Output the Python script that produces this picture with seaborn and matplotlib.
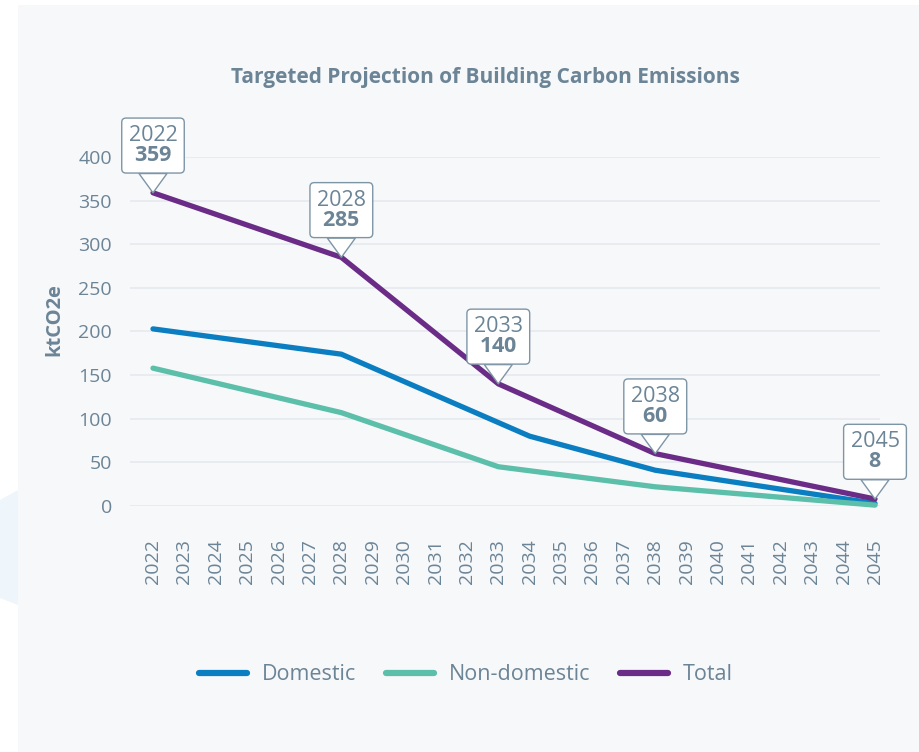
import numpy as np
import pandas as pd
import matplotlib.pyplot as plt
import seaborn as sns
from matplotlib.patches import Rectangle, Polygon

# values
years_axis = list(range(2022, 2046))

dom_years = [2022, 2028, 2034, 2038, 2045]
dom_vals = [203, 174, 80, 41, 3]

nondom_years = [2022, 2028, 2033, 2038, 2045]
nondom_vals = [158, 107, 45, 22, 1]

total_years = [2022, 2028, 2033, 2038, 2045]
total_vals = [359, 285, 140, 60, 8]

series_names = ["Domestic", "Non-domestic", "Total"]
colors = ["#0B7EC2", "#5BBFA9", "#6A2C86"]

TEXT = "#6B8496"
GRID = "#E5E9EF"
PANEL = "#F7F8FA"


def build_df():
    parts = []
    for name, xs, ys in [("Domestic", dom_years, dom_vals),
                         ("Non-domestic", nondom_years, nondom_vals),
                         ("Total", total_years, total_vals)]:
        parts.append(pd.DataFrame({"year": xs, "value": ys, "series": name}))
    return pd.concat(parts, ignore_index=True)


df = build_df()

sns.set_style("white")
plt.rcParams["font.family"] = ["Open Sans", "DejaVu Sans"]
plt.rcParams["mathtext.fontset"] = "custom"
plt.rcParams["mathtext.rm"] = "Open Sans"
plt.rcParams["mathtext.bf"] = "Open Sans:bold"

fig = plt.figure(figsize=(9.19, 7.52), dpi=100, facecolor="white")
# background panel and decorative shape
fig.patches.append(Rectangle((18 / 919, 0), 1, 1 - 5 / 752, transform=fig.transFigure,
                             facecolor=PANEL, edgecolor="none", zorder=-10))
fig.patches.append(Polygon([(0, 1 - 500 / 752), (18 / 919, 1 - 490 / 752),
                            (18 / 919, 1 - 605 / 752), (0, 1 - 598 / 752)],
                           closed=True, transform=fig.transFigure,
                           facecolor="#EEF5FB", edgecolor="none", zorder=-9))

ax = fig.add_axes([130 / 919, (752 - 506) / 752, 750 / 919, 349 / 752])
ax.set_facecolor("none")

sns.lineplot(data=df, x="year", y="value", hue="series", hue_order=series_names,
             palette=colors, linewidth=3.8, ax=ax, clip_on=False, sort=True)
for ln in ax.lines:
    ln.set_solid_capstyle("round")
    ln.set_solid_joinstyle("round")

ax.set_xlim(2022 - 23 / 31.4, 2045 + 5 / 31.4)
ax.set_ylim(0, 400)
ax.set_yticks(np.arange(0, 401, 50))
ax.set_xticks(years_axis)
ax.set_xticklabels([str(y) for y in years_axis], rotation=90)
ax.yaxis.grid(True, color=GRID, linewidth=1.2)
ax.set_axisbelow(True)
for s in ax.spines.values():
    s.set_visible(False)
ax.tick_params(axis="y", length=0, pad=13, labelsize=14, labelcolor=TEXT)
ax.tick_params(axis="x", length=0, pad=24, labelsize=14, labelcolor=TEXT)
ax.set_xlabel("")
ax.set_ylabel("ktCO2e", fontsize=14.5, fontweight="bold", color=TEXT)
ax.yaxis.set_label_coords(-0.088, 0.533)

# callouts on the total line
for yr, v in zip(total_years, total_vals):
    ax.annotate(f"{yr}\n$\\mathbf{{{v}}}$", xy=(yr, v), xytext=(0, 34),
                textcoords="offset points", ha="center", va="center",
                fontsize=15.5, color=TEXT, linespacing=0.95,
                bbox=dict(boxstyle="round,pad=0.32,rounding_size=0.2",
                          fc="white", ec="#7E95A6", lw=1),
                arrowprops=dict(arrowstyle="wedge,tail_width=1.3,shrink_factor=0.5",
                                fc="white", ec="#7E95A6", lw=1,
                                shrinkA=0, shrinkB=0),
                annotation_clip=False, zorder=5)

handles, labels = ax.get_legend_handles_labels()
ax.get_legend().remove()
leg = fig.legend(handles, labels, loc="center", bbox_to_anchor=(466 / 919, 1 - 675 / 752),
                 ncol=3, frameon=False, fontsize=15.5, handlelength=2.2,
                 handletextpad=0.7, columnspacing=1.4, labelcolor=TEXT)
for h in leg.get_lines():
    h.set_linewidth(4.5)
    h.set_solid_capstyle("round")

fig.text(485 / 919, 1 - 78 / 752, "Targeted Projection of Building Carbon Emissions",
         ha="center", va="center", fontsize=15, fontweight="bold", color=TEXT)

fig.savefig("out.png", dpi=100, facecolor=fig.get_facecolor())
